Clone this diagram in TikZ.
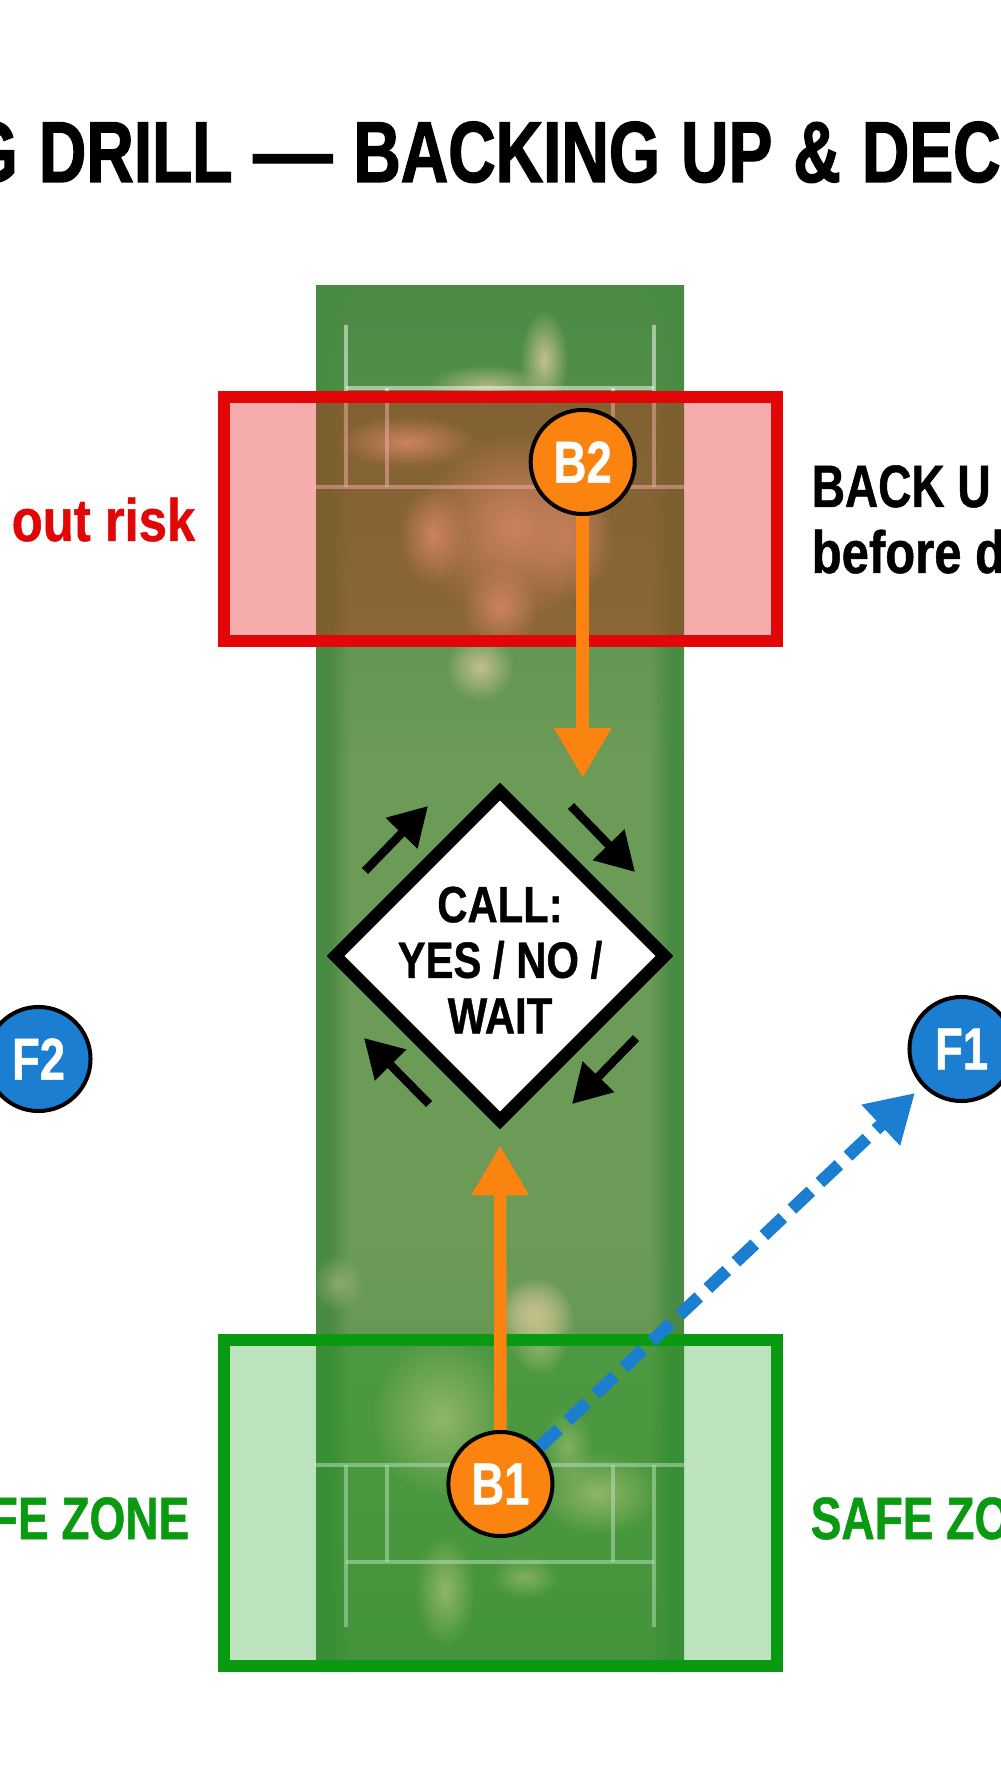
\documentclass[tikz,border=0pt]{standalone}
\usepackage{fontspec}
\setmainfont{Liberation Sans}
\newfontface\titlefont[FakeStretch=0.76,FakeBold=1.5,WordSpace=1.15]{Liberation Sans Bold}
\newfontface\capsfont[FakeStretch=0.77,FakeBold=0.8]{Liberation Sans Bold}
\newfontface\callfont[FakeStretch=0.82,FakeBold=0.8]{Liberation Sans Bold}
\newfontface\lowerfont[FakeStretch=0.82,FakeBold=0.8]{Liberation Sans Bold}
\newfontface\riskfont[FakeStretch=0.85,FakeBold=0.8]{Liberation Sans Bold}
\usetikzlibrary{arrows.meta,calc,fadings,shapes.geometric}

\definecolor{pitchlight}{HTML}{6B9B56}
\definecolor{pitchdark}{HTML}{4A8B44}
\definecolor{sand}{HTML}{C4C08C}
\definecolor{redzone}{HTML}{E20606}
\definecolor{greenzone}{HTML}{0A9A12}
\definecolor{runorange}{HTML}{FB8310}
\definecolor{fieldblue}{HTML}{1B7ED1}

\tikzfading[name=softblob,inner color=transparent!0,outer color=transparent!100]

\tikzset{
	crease/.style={draw=white,draw opacity=0.5,line width=0.035cm},
	patch/.style={fill=sand,path fading=softblob},
	player/.style={circle,draw=black,line width=0.04cm,minimum size=1.04cm,inner sep=0,
		text=white,font=\capsfont\fontsize{16.8}{18}\selectfont},
	batter/.style={player,fill=runorange},
	fielder/.style={player,fill=fieldblue},
	run/.style={draw=runorange,line width=0.125cm,-{Triangle[length=0.5cm,width=0.54cm]}},
	throw/.style={draw=fieldblue,line width=0.125cm,dash pattern=on 0.26cm off 0.125cm,
		-{Triangle[length=0.47cm,width=0.53cm]}},
	turn/.style={draw=black,line width=0.085cm,-{Triangle[length=0.38cm,width=0.42cm]}},
	side/.style={inner sep=0,anchor=base west,font=\capsfont\fontsize{17}{18.8}\selectfont},
}

\begin{document}
\begin{tikzpicture}[x=0.01cm,y=-0.01cm]
	    % Keep the page at the size of the reference
	    \path [use as bounding box,fill=white] (0,0) rectangle (1000,1792);

	    % Title runs off both sides of the page
	    \node (title) [inner sep=0,anchor=base west,font=\titlefont\fontsize{24.6}{26}\selectfont]
		at (-34,182) {G DRILL \scalebox{1.2}[1]{—} BACKING UP \& DEC};

	    % The pitch, lighter in the middle of its length
	    \fill [top color=pitchdark,bottom color=pitchlight] (316,286) rectangle (684,760);
	    \fill [pitchlight] (316,760) rectangle (684,1240);
	    \fill [top color=pitchlight,bottom color=pitchdark!50!pitchlight] (316,1240) rectangle (684,1665);
	    \fill [pitchdark] (316,286) rectangle (330,1665);
	    \fill [pitchdark] (670,286) rectangle (684,1665);
	    \fill [pitchdark,path fading=east] (330,286) rectangle (350,1665);
	    \fill [pitchdark,path fading=west] (650,286) rectangle (670,1665);

	    % Worn patches
	    \foreach \px/\py/\rx/\ry/\op in {
		    544/360/24/50/1, 487/385/60/20/0.8, 407/442/70/26/1, 514/527/95/95/1,
		    567/537/48/60/0.8, 433/535/34/50/1, 500/607/38/42/1, 480/667/34/34/1,
		    337/1283/26/28/0.5, 533/1314/40/36/1, 537/1323/38/46/0.8, 441/1417/70/82/1,
		    598/1493/62/42/1, 445/1590/30/56/1, 525/1577/34/22/0.8, 567/1447/26/40/0.8,
		    540/1350/26/26/0.7}
		\fill [patch,fill opacity=\op] (\px,\py) ellipse [x radius=\rx,y radius=\ry];

	    % Creases at the far end
	    \draw [crease] (346,325) -- (346,487);
	    \draw [crease] (654,325) -- (654,487);
	    \draw [crease] (346,388) -- (654,388);
	    \draw [crease] (316,487) -- (684,487);
	    \draw [crease] (387,388) -- (387,487);
	    \draw [crease] (613,388) -- (613,487);

	    % Creases at the near end
	    \draw [crease] (316,1465) -- (684,1465);
	    \draw [crease] (346,1465) -- (346,1627);
	    \draw [crease] (654,1465) -- (654,1627);
	    \draw [crease] (387,1465) -- (387,1562);
	    \draw [crease] (613,1465) -- (613,1562);
	    \draw [crease] (346,1562) -- (654,1562);

	    % Risk box and safe box
	    \path [fill=redzone,fill opacity=0.33] (224,397) rectangle (776.5,641);
	    \draw [redzone,line width=0.12cm] (224,397) rectangle (776.5,641);
	    \path [fill=greenzone,fill opacity=0.27] (224,1339.5) rectangle (776.5,1665.5);
	    \draw [greenzone,line width=0.12cm] (224,1339.5) rectangle (776.5,1665.5);

	    % Side labels
	    \node (risk) [side,text=redzone,font=\riskfont\fontsize{17}{18.8}\selectfont] at (11,541) {out risk};
	    \node (backup) [side] at (811,507) {BACK U};
	    \node (before) [side,font=\lowerfont\fontsize{17}{18.8}\selectfont] at (811,573) {before d};
	    \node (safeleft) [side,anchor=base east,text=greenzone] at (190,1539) {FE ZONE};
	    \node (saferight) [side,text=greenzone] at (810,1539) {SAFE ZO};

	    % The batters and fielders
	    \node (B2) [batter] at (582.7,462) {B2};
	    \node (B1) [batter] at (500.4,1484) {B1};
	    \node (F1) [fielder] at (961.5,1049) {F1};
	    \node (F2) [fielder] at (38.5,1059) {F2};

	    % The calling diamond
	    \node (call) [diamond,aspect=1,draw=black,fill=white,line width=0.125cm,
		inner sep=0,minimum size=3.34cm] at (500,956) {};
	    \node (call text) [align=center,inner sep=0,font=\callfont\fontsize{14.5}{15.8}\selectfont]
		at ($(call.center)+(0,4)$) {CALL:\\YES / NO /\\WAIT};

	    % Runs towards the diamond
	    \coordinate (run end) at (582.7,778);
	    \draw [run] (B2) -- (run end);
	    \draw [run,shorten >=0.16cm] (B1) -- (call);

	    % The throw
	    \draw [throw,shorten >=0.1cm] (B1) -- (F1);

	    % Small arrows turning round the diamond
	    \foreach \sx/\sy/\ex/\ey in {-135/-85/-72/-150, 71/-150/135/-84, 136/82/72/148, -71/148/-136/82}
		\draw [turn] ($(call.center)+(\sx,\sy)$) -- ($(call.center)+(\ex,\ey)$);
	\end{tikzpicture}
\end{document}
